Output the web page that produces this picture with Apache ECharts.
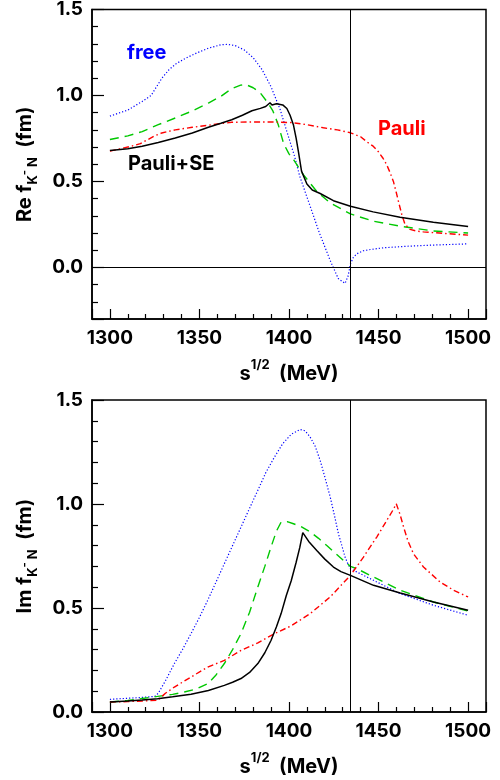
<!DOCTYPE html>
<html><head><meta charset="utf-8">
<script src="https://cdn.jsdelivr.net/npm/echarts@6/dist/echarts.min.js"></script>
<style>html,body{margin:0;padding:0;background:#fff}#c{width:500px;height:780px}</style>
</head><body><div id="c"></div>
<script>
// ---------- axis settings ----------
const X_MIN = 1290, X_MAX = 1510;
const RE_MIN = -0.3, RE_MAX = 1.5;
const IM_MIN = 0, IM_MAX = 1.5;
const THRESHOLD = 1434.3;   // K-N threshold (vertical line)
const ZERO_LINE = 0;

// ---------- Re f (top panel) ----------
const reFreeS = [1300,1310,1318,1323,1326,1329,1333,1337,1342,1348,1355,1362,1366,1370,1375,1380,1385,1390,1395,1400,1403,1406,1412,1417,1423,1427.5,1431.3,1433,1434.3,1436,1438,1441.5,1446,1452.7,1465.7,1480.6,1500];
const reFreeV = [0.88,0.915,0.965,1.00,1.05,1.10,1.15,1.185,1.215,1.245,1.275,1.295,1.297,1.29,1.265,1.22,1.15,1.05,0.92,0.75,0.65,0.53,0.35,0.20,0.04,-0.065,-0.093,-0.05,0.02,0.06,0.08,0.097,0.105,0.114,0.123,0.13,0.137];

const reDashS = [1300,1310,1318,1327,1336.5,1346,1355,1362,1368,1373,1376,1380,1384,1388,1391,1394,1397,1400,1403,1408,1415.5,1423,1434.3,1447,1462,1480.6,1500];
const reDashV = [0.744,0.765,0.79,0.83,0.869,0.91,0.956,0.995,1.04,1.06,1.063,1.045,1.015,0.96,0.91,0.83,0.72,0.66,0.62,0.54,0.442,0.375,0.311,0.269,0.24,0.212,0.2];

const reSES = [1300,1310,1318,1327,1336.5,1346,1355,1362,1368,1374,1379.3,1384,1387,1389.4,1390.5,1393,1396.5,1398.8,1400.6,1402.5,1404,1405.3,1407,1410,1413,1417.4,1424.8,1434.3,1447,1462,1480.6,1500];
const reSEV = [0.68,0.69,0.705,0.727,0.753,0.782,0.815,0.838,0.859,0.885,0.911,0.925,0.936,0.958,0.945,0.952,0.945,0.924,0.885,0.828,0.75,0.67,0.56,0.485,0.45,0.43,0.388,0.356,0.323,0.292,0.263,0.238];

const rePauliS = [1300,1306,1312,1317,1321.3,1325,1329,1336.5,1346,1355,1368,1379,1390.6,1401.7,1410,1419.2,1427,1434.3,1440,1443.4,1447,1449.9,1452.5,1454.6,1456.5,1458.3,1459.8,1461.1,1463,1464.8,1467.6,1471.4,1475,1486.2,1500];
const rePauliV = [0.676,0.69,0.705,0.72,0.744,0.765,0.782,0.80,0.815,0.827,0.844,0.846,0.846,0.842,0.83,0.812,0.80,0.783,0.76,0.731,0.705,0.673,0.635,0.596,0.55,0.50,0.44,0.384,0.307,0.25,0.221,0.211,0.207,0.198,0.188];

// ---------- Im f (bottom panel) ----------
const imFreeS = [1300,1310,1318,1325,1327,1331,1336,1340.5,1345.3,1350,1354.6,1359,1363.9,1368.5,1373.2,1378,1382.6,1387,1391.9,1396.5,1401.2,1406.2,1409,1411.8,1414.5,1417.4,1420,1423,1425.5,1427.6,1429.5,1431.3,1433,1434.3,1437.9,1447.2,1462.1,1480.7,1500];
const imFreeV = [0.061,0.066,0.07,0.075,0.09,0.15,0.233,0.30,0.377,0.455,0.537,0.62,0.713,0.80,0.889,0.98,1.066,1.15,1.226,1.29,1.335,1.358,1.352,1.322,1.28,1.21,1.13,1.034,0.94,0.857,0.80,0.745,0.71,0.689,0.673,0.633,0.569,0.513,0.465];

const imDashS = [1300,1310,1318,1326.6,1335,1341.5,1348,1354.6,1359,1363.9,1368.5,1373.2,1378,1382.6,1386.5,1390,1393,1395.6,1399,1402.5,1407,1411.8,1416.5,1421.1,1425.7,1430.4,1434.3,1437.9,1447.2,1462.1,1480.7,1500];
const imDashV = [0.048,0.055,0.065,0.075,0.085,0.096,0.11,0.136,0.175,0.233,0.30,0.377,0.48,0.601,0.70,0.794,0.87,0.913,0.915,0.905,0.89,0.866,0.835,0.80,0.765,0.729,0.70,0.689,0.649,0.585,0.529,0.485];

const imSES = [1300,1310,1318,1326.6,1335,1345.3,1355,1363.9,1368.5,1373.2,1378,1382.6,1386.5,1390,1393,1395.6,1398.5,1401.2,1404,1406,1407.7,1411,1415.5,1420,1424.8,1429,1434.3,1447.2,1462.1,1480.7,1500];
const imSEV = [0.048,0.053,0.058,0.064,0.073,0.085,0.103,0.128,0.143,0.161,0.19,0.233,0.285,0.345,0.41,0.473,0.56,0.63,0.72,0.79,0.862,0.82,0.777,0.735,0.697,0.675,0.657,0.609,0.572,0.529,0.489];

const imPauliS = [1300,1310,1318,1326.6,1331,1336,1345.3,1354.6,1363.9,1373.2,1382.6,1391.9,1401.2,1411.8,1423,1434.3,1441.6,1449,1454.6,1458,1459.9,1462,1464,1466.5,1469.5,1475.1,1484.4,1492,1500];
const imPauliV = [0.048,0.05,0.053,0.056,0.09,0.12,0.168,0.216,0.248,0.296,0.332,0.377,0.414,0.473,0.553,0.657,0.745,0.841,0.921,0.97,1.001,0.95,0.889,0.82,0.761,0.697,0.625,0.585,0.553];

// ---------- labels ----------
const X_TITLE = '{n|s}{p|1/2}{n|  (MeV)}';
const RE_TITLE = '{n|Re f}{s|K}{q|-}{s| N}{n|  (fm)}';
const IM_TITLE = '{n|Im f}{s|K}{q|-}{s| N}{n|  (fm)}';

const FONT = 'Inter';
const zip = (a, b) => a.map((x, i) => [x, b[i]]);

const titleRich = {
  n: {fontFamily: FONT, fontWeight: 'bold', fontSize: 20, lineHeight: 30, color: '#000'},
  s: {fontFamily: FONT, fontWeight: 'bold', fontSize: 13, lineHeight: 16, verticalAlign: 'bottom', color: '#000'},
  q: {fontFamily: FONT, fontWeight: 'bold', fontSize: 11, lineHeight: 30, verticalAlign: 'middle', color: '#000'},
  p: {fontFamily: FONT, fontWeight: 'bold', fontSize: 13, lineHeight: 16, verticalAlign: 'top', color: '#000'}
};

function xAxisCfg(gi) {
  return {
    type: 'value', gridIndex: gi, min: X_MIN, max: X_MAX, splitNumber: 5,
    name: X_TITLE, nameLocation: 'middle', nameGap: 40,
    nameTextStyle: {rich: titleRich},
    axisLine: {show: true, onZero: false, lineStyle: {color: '#000', width: 1.5}},
    axisTick: {show: true, inside: true, length: 10, lineStyle: {color: '#000', width: 1.2}},
    minorTick: {show: true, splitNumber: 5, length: 5, lineStyle: {color: '#000', width: 1.2}},
    splitLine: {show: false}, minorSplitLine: {show: false},
    axisLabel: {showMinLabel: false, showMaxLabel: false, margin: 10, color: '#000',
      fontFamily: FONT, fontWeight: 'bold', fontSize: 19, formatter: v => String(v)}
  };
}
function yAxisCfg(gi, mn, mx, title, showMin) {
  return {
    type: 'value', gridIndex: gi, min: mn, max: mx, splitNumber: 3,
    name: title, nameLocation: 'middle', nameGap: 52, nameRotate: 90,
    nameTextStyle: {rich: titleRich},
    axisLine: {show: true, onZero: false, lineStyle: {color: '#000', width: 1.5}},
    axisTick: {show: true, inside: true, length: 12, lineStyle: {color: '#000', width: 1.2}},
    minorTick: {show: true, splitNumber: 5, length: 6, lineStyle: {color: '#000', width: 1.2}},
    splitLine: {show: false}, minorSplitLine: {show: false},
    axisLabel: {showMinLabel: showMin, margin: 9, color: '#000',
      fontFamily: FONT, fontWeight: 'bold', fontSize: 19, formatter: v => v.toFixed(1)}
  };
}

const STYLES = {
  free:  {color: '#0000ff', width: 1.2, type: [1.2, 2]},
  dash:  {color: '#00c800', width: 1.4, type: [9, 6]},
  se:    {color: '#000000', width: 1.5, type: 'solid'},
  pauli: {color: '#ff0000', width: 1.4, type: [6, 3, 1.5, 3]}
};
function line(name, gi, s, v, st, extra) {
  return Object.assign({
    name, type: 'line', xAxisIndex: gi, yAxisIndex: gi, data: zip(s, v),
    showSymbol: false, symbol: 'none', smooth: false, silent: true,
    lineStyle: {color: st.color, width: st.width, type: st.type}, z: 3
  }, extra || {});
}
const mlStyle = {color: '#000', width: 1, type: 'solid'};

const chart = echarts.init(document.getElementById('c'), null, {renderer: 'canvas'});
chart.setOption({
  animation: false,
  backgroundColor: '#fff',
  grid: [
    {left: 92, top: 8, width: 394, height: 311, show: true, borderColor: '#000', borderWidth: 1.5, backgroundColor: 'transparent'},
    {left: 92, top: 400, width: 394, height: 312, show: true, borderColor: '#000', borderWidth: 1.5, backgroundColor: 'transparent'}
  ],
  xAxis: [xAxisCfg(0), xAxisCfg(1)],
  yAxis: [yAxisCfg(0, RE_MIN, RE_MAX, RE_TITLE, false), yAxisCfg(1, IM_MIN, IM_MAX, IM_TITLE, true)],
  series: [
    line('free', 0, reFreeS, reFreeV, STYLES.free),
    line('dash', 0, reDashS, reDashV, STYLES.dash),
    line('pauli', 0, rePauliS, rePauliV, STYLES.pauli),
    line('Pauli+SE', 0, reSES, reSEV, STYLES.se, {
      markLine: {silent: true, symbol: 'none', label: {show: false}, lineStyle: mlStyle, animation: false,
        data: [{xAxis: THRESHOLD}, {yAxis: ZERO_LINE}]}
    }),
    line('free', 1, imFreeS, imFreeV, STYLES.free),
    line('dash', 1, imDashS, imDashV, STYLES.dash),
    line('pauli', 1, imPauliS, imPauliV, STYLES.pauli),
    line('Pauli+SE', 1, imSES, imSEV, STYLES.se, {
      markLine: {silent: true, symbol: 'none', label: {show: false}, lineStyle: mlStyle, animation: false,
        data: [{xAxis: THRESHOLD}]}
    })
  ],
  graphic: [
    {type: 'text', left: 127, top: 43, style: {text: 'free', fill: '#0000ff', fontFamily: FONT, fontWeight: 'bold', fontSize: 20}},
    {type: 'text', left: 378, top: 119, style: {text: 'Pauli', fill: '#ff0000', fontFamily: FONT, fontWeight: 'bold', fontSize: 20}},
    {type: 'text', left: 128, top: 154, style: {text: 'Pauli+SE', fill: '#000', fontFamily: FONT, fontWeight: 'bold', fontSize: 20}}
  ]
});
</script>
</body></html>
